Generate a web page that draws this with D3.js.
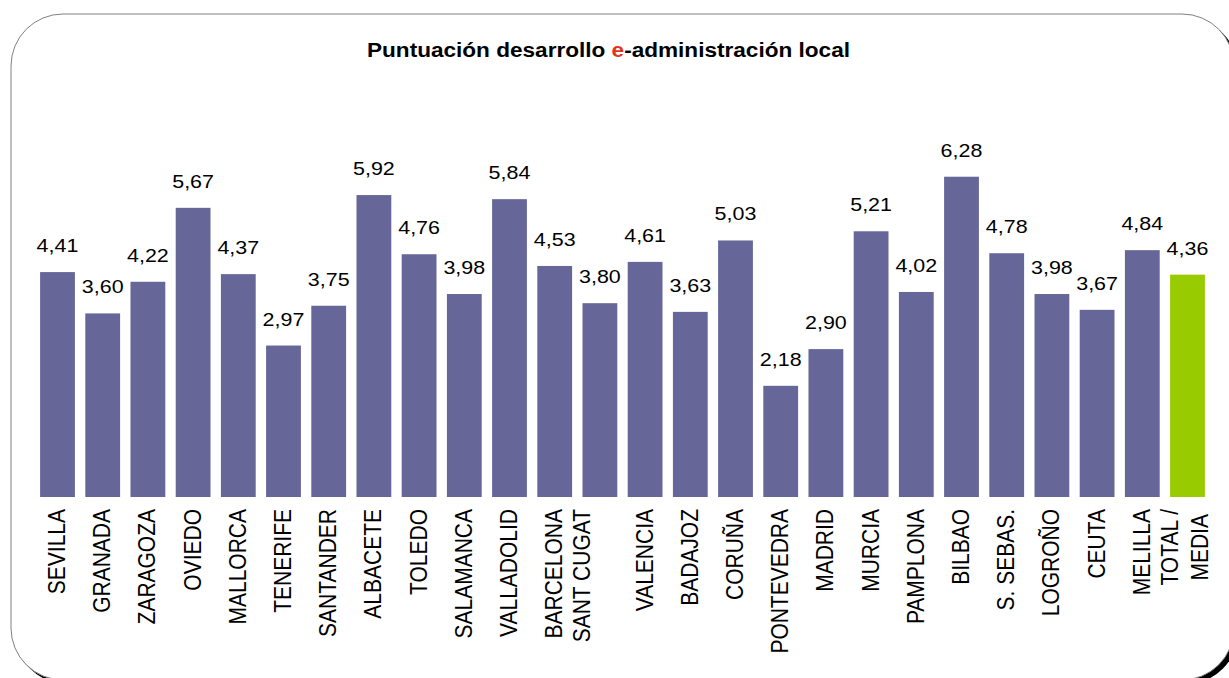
<!DOCTYPE html>
<html>
<head>
<meta charset="utf-8">
<script src="https://cdn.jsdelivr.net/npm/d3@7"></script>
<style>
  body { margin: 0; background: #fff; }
  text { font-family: Arial, "Liberation Sans", sans-serif; fill: #000; }
</style>
</head>
<body>
<div class="chart-container"></div>
<script>
var categories = ["SEVILLA", "GRANADA", "ZARAGOZA", "OVIEDO", "MALLORCA", "TENERIFE",
  "SANTANDER", "ALBACETE", "TOLEDO", "SALAMANCA", "VALLADOLID", "BARCELONA",
  "SANT CUGAT", "VALENCIA", "BADAJOZ", "CORUÑA", "PONTEVEDRA", "MADRID", "MURCIA",
  "PAMPLONA", "BILBAO", "S. SEBAS.", "LOGROÑO", "CEUTA", "MELILLA", "TOTAL /\nMEDIA"];
var values = [4.41, 3.60, 4.22, 5.67, 4.37, 2.97, 3.75, 5.92, 4.76, 3.98, 5.84, 4.53,
  3.80, 4.61, 3.63, 5.03, 2.18, 2.90, 5.21, 4.02, 6.28, 4.78, 3.98, 3.67, 4.84, 4.36];
var totalIndex = 25;

var W = 1229, H = 678;
var fmt = function(v) { return d3.format(".2f")(v).replace(".", ","); };

var svg = d3.select(".chart-container").append("svg")
    .attr("width", W)
    .attr("height", H);

// frame with shadow
svg.append("rect")
    .attr("x", 15).attr("y", 18)
    .attr("width", 1223).attr("height", 666)
    .attr("rx", 52).attr("ry", 52)
    .attr("fill", "#000");
svg.append("rect")
    .attr("x", 11).attr("y", 14)
    .attr("width", 1223).attr("height", 666)
    .attr("rx", 52).attr("ry", 52)
    .attr("fill", "#fff")
    .attr("stroke", "#808080")
    .attr("stroke-width", 1);

// title
var title = svg.append("text")
    .attr("x", 608.5).attr("y", 57)
    .attr("text-anchor", "middle")
    .attr("font-size", 20)
    .attr("font-weight", "bold")
    .attr("textLength", 483)
    .attr("lengthAdjust", "spacingAndGlyphs");
title.append("tspan").text("Puntuación desarrollo ");
title.append("tspan").attr("fill", "#e2341d").style("fill", "#e2341d").text("e");
title.append("tspan").text("-administración local");

var x = d3.scaleBand()
    .domain(d3.range(categories.length))
    .range([34.9, 1210.1])
    .paddingInner(0.23)
    .paddingOuter(0.115);

var y = d3.scaleLinear().domain([0, 7]).range([497, 140]);

var g = svg.append("g");

g.selectAll("rect.bar")
    .data(values)
    .enter().append("rect")
    .attr("class", "bar")
    .attr("x", function(d, i) { return x(i); })
    .attr("width", x.bandwidth())
    .attr("y", function(d) { return y(d); })
    .attr("height", function(d) { return y(0) - y(d); })
    .attr("fill", function(d, i) { return i === totalIndex ? "#99cc00" : "#666699"; });

// value labels (slightly wide glyphs in the original)
g.selectAll("text.val")
    .data(values)
    .enter().append("text")
    .attr("class", "val")
    .attr("text-anchor", "middle")
    .attr("font-size", 19)
    .attr("transform", function(d, i) {
        return "translate(" + (x(i) + x.bandwidth() / 2) + "," + (y(d) - 20) + ") scale(1.13,1)";
    })
    .text(fmt);

// category labels, rotated
var labelShift = {"SANT CUGAT": -17, "TOTAL /\nMEDIA": -2};
var lineGap = 30;
categories.forEach(function(c, i) {
    var lines = c.split("\n");
    var cx = x(i) + x.bandwidth() / 2 + (labelShift[c] || 0);
    var grp = g.append("g");
    var texts = lines.map(function(l, j) {
        return grp.append("text")
            .attr("font-size", 21)
            .text(l);
    });
    var lens = texts.map(function(t) { return t.node().getComputedTextLength(); });
    var maxLen = d3.max(lens);
    texts.forEach(function(t, j) {
        var lx = cx + (j - (lines.length - 1) / 2) * lineGap + 7.5;
        var anchorY, anchor;
        if (lines.length === 1) { anchorY = 509; anchor = "end"; }
        else { anchorY = 509 + maxLen / 2; anchor = "middle"; }
        t.attr("text-anchor", anchor)
         .attr("transform", "translate(" + lx + "," + anchorY + ") scale(1.12,1) rotate(-90)");
    });
});
</script>
</body>
</html>
